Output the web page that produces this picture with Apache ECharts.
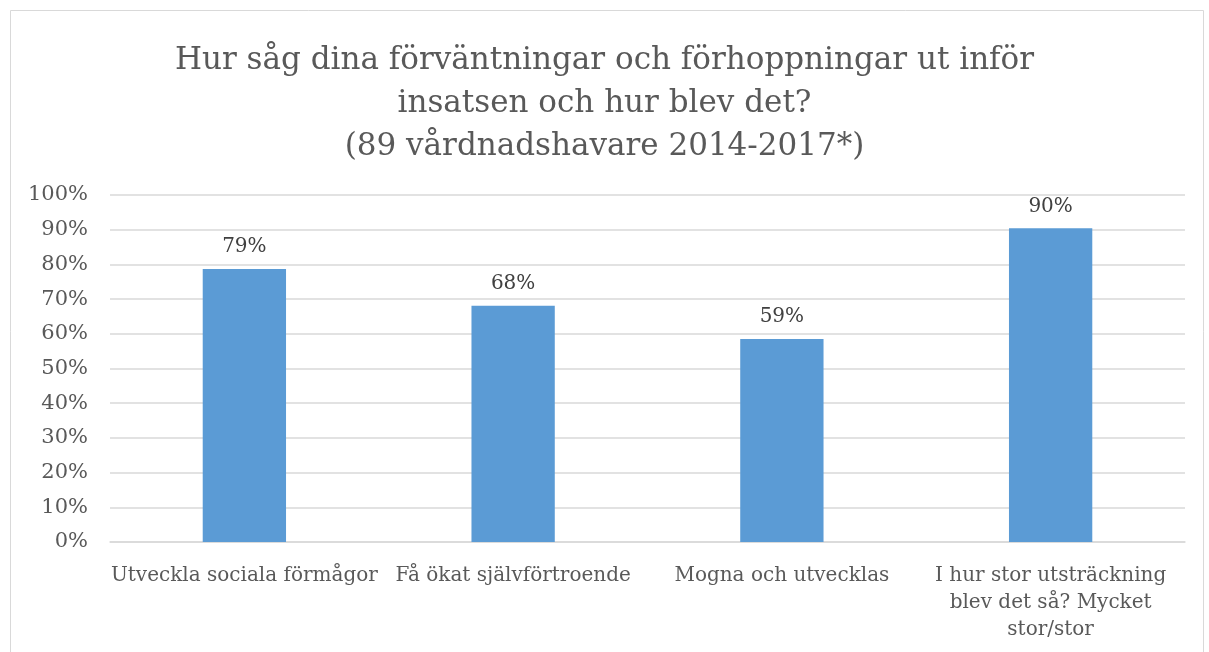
<!DOCTYPE html>
<html>
<head>
<meta charset="utf-8">
<script src="https://cdn.jsdelivr.net/npm/echarts@6/dist/echarts.min.js"></script>
<style>
  html, body { margin: 0; padding: 0; background: #fff; }
  #container { width: 1209px; height: 652px; }
</style>
</head>
<body>
<div id="container"></div>
<script>
// kategorier och andelar (0-1)
var categories = [
  'Utveckla sociala förmågor',
  'Få ökat självförtroende',
  'Mogna och utvecklas',
  'I hur stor utsträckning\nblev det så? Mycket\nstor/stor'
]
var values = [0.787, 0.681, 0.585, 0.904]
var titleText = 'Hur såg dina förväntningar och förhoppningar ut inför\ninsatsen och hur blev det?\n(89 vårdnadshavare 2014-2017*)'

var font = 'DejaVu Serif'
var chart = echarts.init(document.getElementById('container'))

chart.setOption({
  backgroundColor: '#ffffff',
  animation: false,
  graphic: [
    {
      type: 'rect',
      shape: { x: 10.5, y: 10.5, width: 1193, height: 700 },
      style: { fill: 'none', stroke: '#d9d9d9', lineWidth: 1 }
    }
  ],
  title: {
    text: titleText,
    left: 'center',
    top: 34,
    textStyle: {
      fontFamily: font,
      fontWeight: 'normal',
      fontSize: 31,
      lineHeight: 43,
      color: '#595959'
    }
  },
  grid: {
    left: 110,
    right: 24,
    top: 195,
    bottom: 110
  },
  xAxis: {
    type: 'category',
    data: categories,
    axisLine: { lineStyle: { color: '#d9d9d9', width: 1.5 } },
    axisTick: { show: false },
    axisLabel: {
      interval: 0,
      margin: 20,
      fontFamily: font,
      fontSize: 20,
      lineHeight: 27,
      color: '#595959'
    }
  },
  yAxis: {
    type: 'value',
    min: 0,
    max: 1,
    interval: 0.1,
    axisLine: { show: false },
    axisTick: { show: false },
    splitLine: { lineStyle: { color: '#d9d9d9', width: 1.5 } },
    axisLabel: {
      margin: 22,
      fontFamily: font,
      fontSize: 21,
      color: '#595959',
      formatter: function (v) { return Math.round(v * 100) + '%' }
    }
  },
  series: [
    {
      type: 'bar',
      data: values,
      barWidth: '31%',
      itemStyle: { color: '#5b9bd5' },
      label: {
        show: true,
        position: 'top',
        distance: 12,
        fontFamily: font,
        fontSize: 20,
        color: '#404040',
        formatter: function (p) { return Math.round(p.value * 100) + '%' }
      }
    }
  ]
})
</script>
</body>
</html>
